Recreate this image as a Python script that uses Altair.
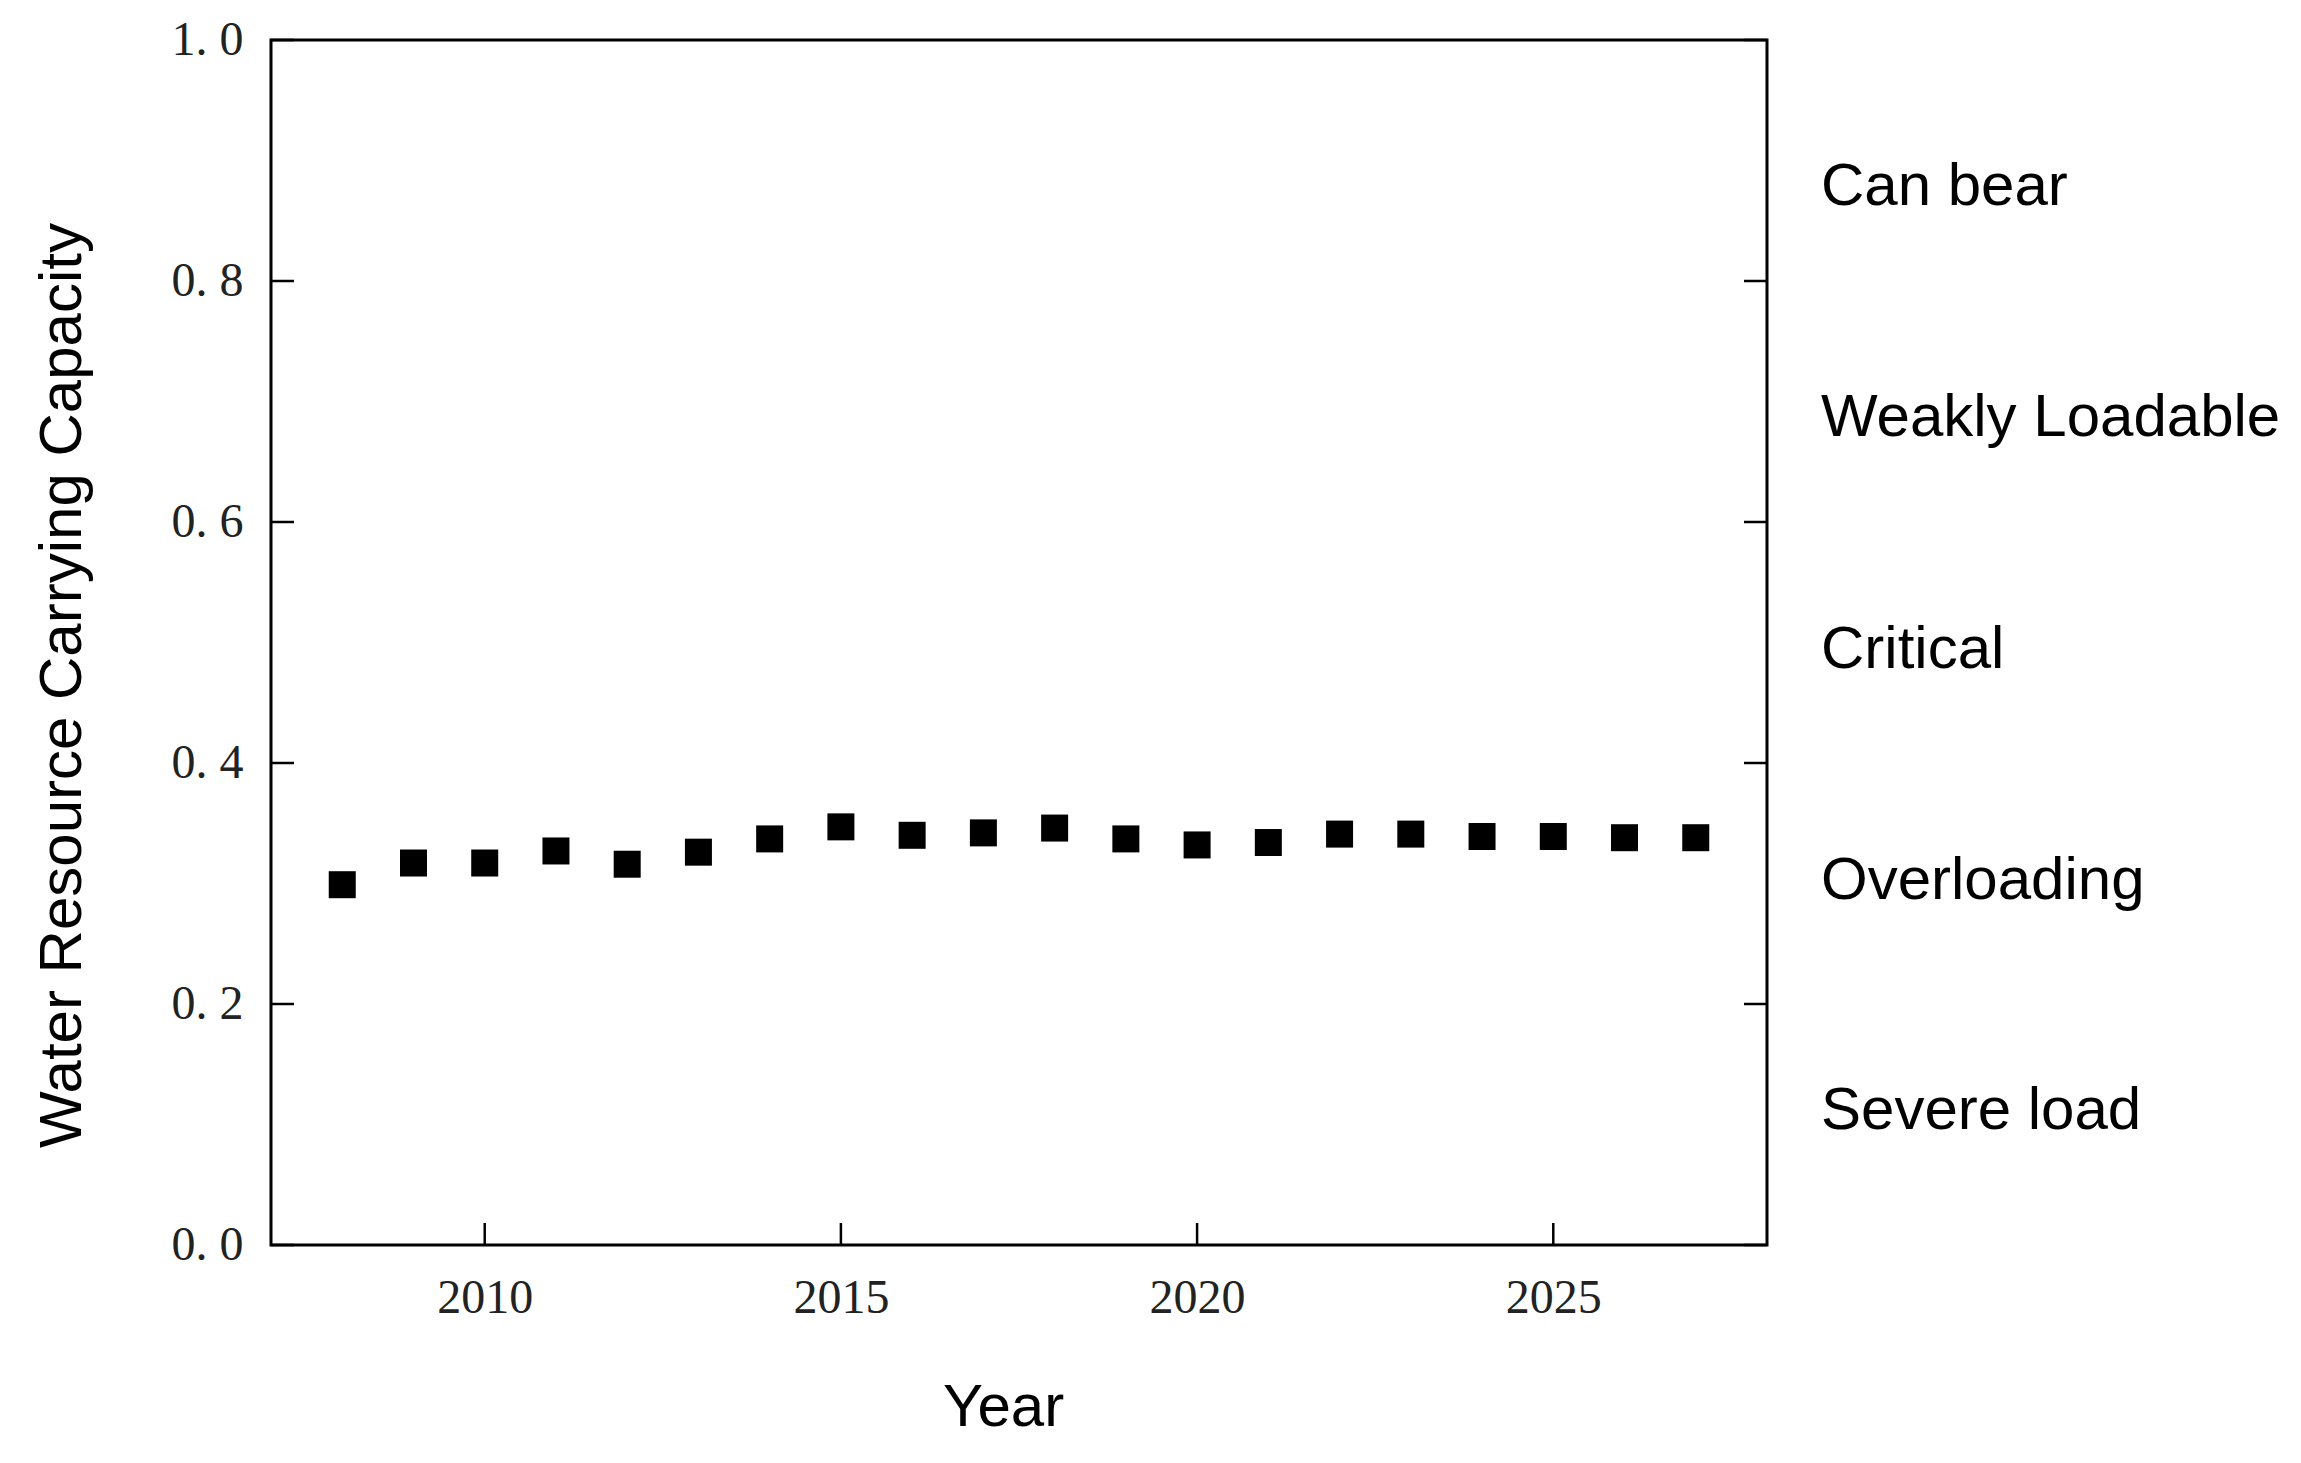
import altair as alt
import pandas as pd

# ---- data ----
years = [2008, 2009, 2010, 2011, 2012, 2013, 2014, 2015, 2016, 2017,
         2018, 2019, 2020, 2021, 2022, 2023, 2024, 2025, 2026, 2027]
capacity = [0.299, 0.317, 0.317, 0.327, 0.316, 0.326, 0.337, 0.347, 0.340, 0.342,
            0.346, 0.337, 0.332, 0.334, 0.341, 0.341, 0.339, 0.339, 0.338, 0.338]

x_ticks = [2010, 2015, 2020, 2025]
y_ticks = [0.0, 0.2, 0.4, 0.6, 0.8, 1.0]

zone_labels = ["Can bear", "Weakly Loadable", "Critical", "Overloading", "Severe load"]
zone_label_pos = [0.878, 0.686, 0.494, 0.302, 0.111]

W, H = 1496, 1205
TICK = 23

pts = pd.DataFrame({"Year": years, "Capacity": capacity})
yt = pd.DataFrame({"Capacity": y_ticks})
xt = pd.DataFrame({"Year": x_ticks})
zones = pd.DataFrame({"label": zone_labels, "Capacity": zone_label_pos})

xscale = alt.Scale(domain=[2007, 2028], nice=False, zero=False)
yscale = alt.Scale(domain=[0, 1], nice=False, zero=True)

xaxis = alt.Axis(values=x_ticks, format="d", title="Year", grid=False,
                 domain=False, ticks=False, tickSize=0,
                 labelFont="Liberation Serif", labelFontSize=48,
                 labelColor="#222", labelPadding=29,
                 titleFont="Liberation Sans", titleFontSize=60,
                 titleFontWeight="normal", titleColor="black",
                 titleBaseline="alphabetic", titleX=732, titleY=180,
                 titleAlign="center")
yaxis = alt.Axis(values=y_ticks,
                 labelExpr="replace(format(datum.value, '.1f'), '.', '. ')",
                 title="Water Resource Carrying Capacity", grid=False,
                 domain=False, ticks=False, tickSize=0,
                 labelFont="Liberation Serif", labelFontSize=48,
                 labelColor="#222", labelPadding=28,
                 labelAlign="right", labelBaseline="middle",
                 titleFont="Liberation Sans", titleFontSize=60,
                 titleFontWeight="normal", titleColor="black",
                 titleAngle=270, titleBaseline="alphabetic",
                 titleAlign="center", titleX=-191, titleY=645)

points = alt.Chart(pts).mark_square(filled=True, color="black", size=729, opacity=1).encode(
    x=alt.X("Year:Q", scale=xscale, axis=xaxis, title="Year"),
    y=alt.Y("Capacity:Q", scale=yscale, axis=yaxis, title="Water Resource Carrying Capacity"),
)

left_ticks = alt.Chart(yt).mark_rule(color="black", strokeWidth=2.5).encode(
    y=alt.Y("Capacity:Q", scale=yscale, title="Water Resource Carrying Capacity"),
    x=alt.value(0), x2=alt.value(TICK),
)
right_ticks = alt.Chart(yt).mark_rule(color="black", strokeWidth=2.5).encode(
    y=alt.Y("Capacity:Q", scale=yscale, title="Water Resource Carrying Capacity"),
    x=alt.value(W - TICK), x2=alt.value(W),
)
bottom_ticks = alt.Chart(xt).mark_rule(color="black", strokeWidth=2.5).encode(
    x=alt.X("Year:Q", scale=xscale, title="Year"),
    y=alt.value(H - 22), y2=alt.value(H),
)

zone_text = alt.Chart(zones).mark_text(
    align="left", baseline="middle", font="Liberation Sans", fontSize=60, color="black"
).encode(
    y=alt.Y("Capacity:Q", scale=yscale, title="Water Resource Carrying Capacity"),
    x=alt.value(W + 54),
    text="label:N",
)

chart = alt.layer(points, left_ticks, right_ticks, bottom_ticks, zone_text).properties(
    width=W, height=H,
    autosize=alt.AutoSizeParams(type="none"),
    padding={"left": 263, "top": 32, "right": 520, "bottom": 200},
    background="white",
).configure_view(stroke="black", strokeWidth=3, fill="white")

chart.save("out.html", embed_options={"renderer": "svg", "actions": False})
